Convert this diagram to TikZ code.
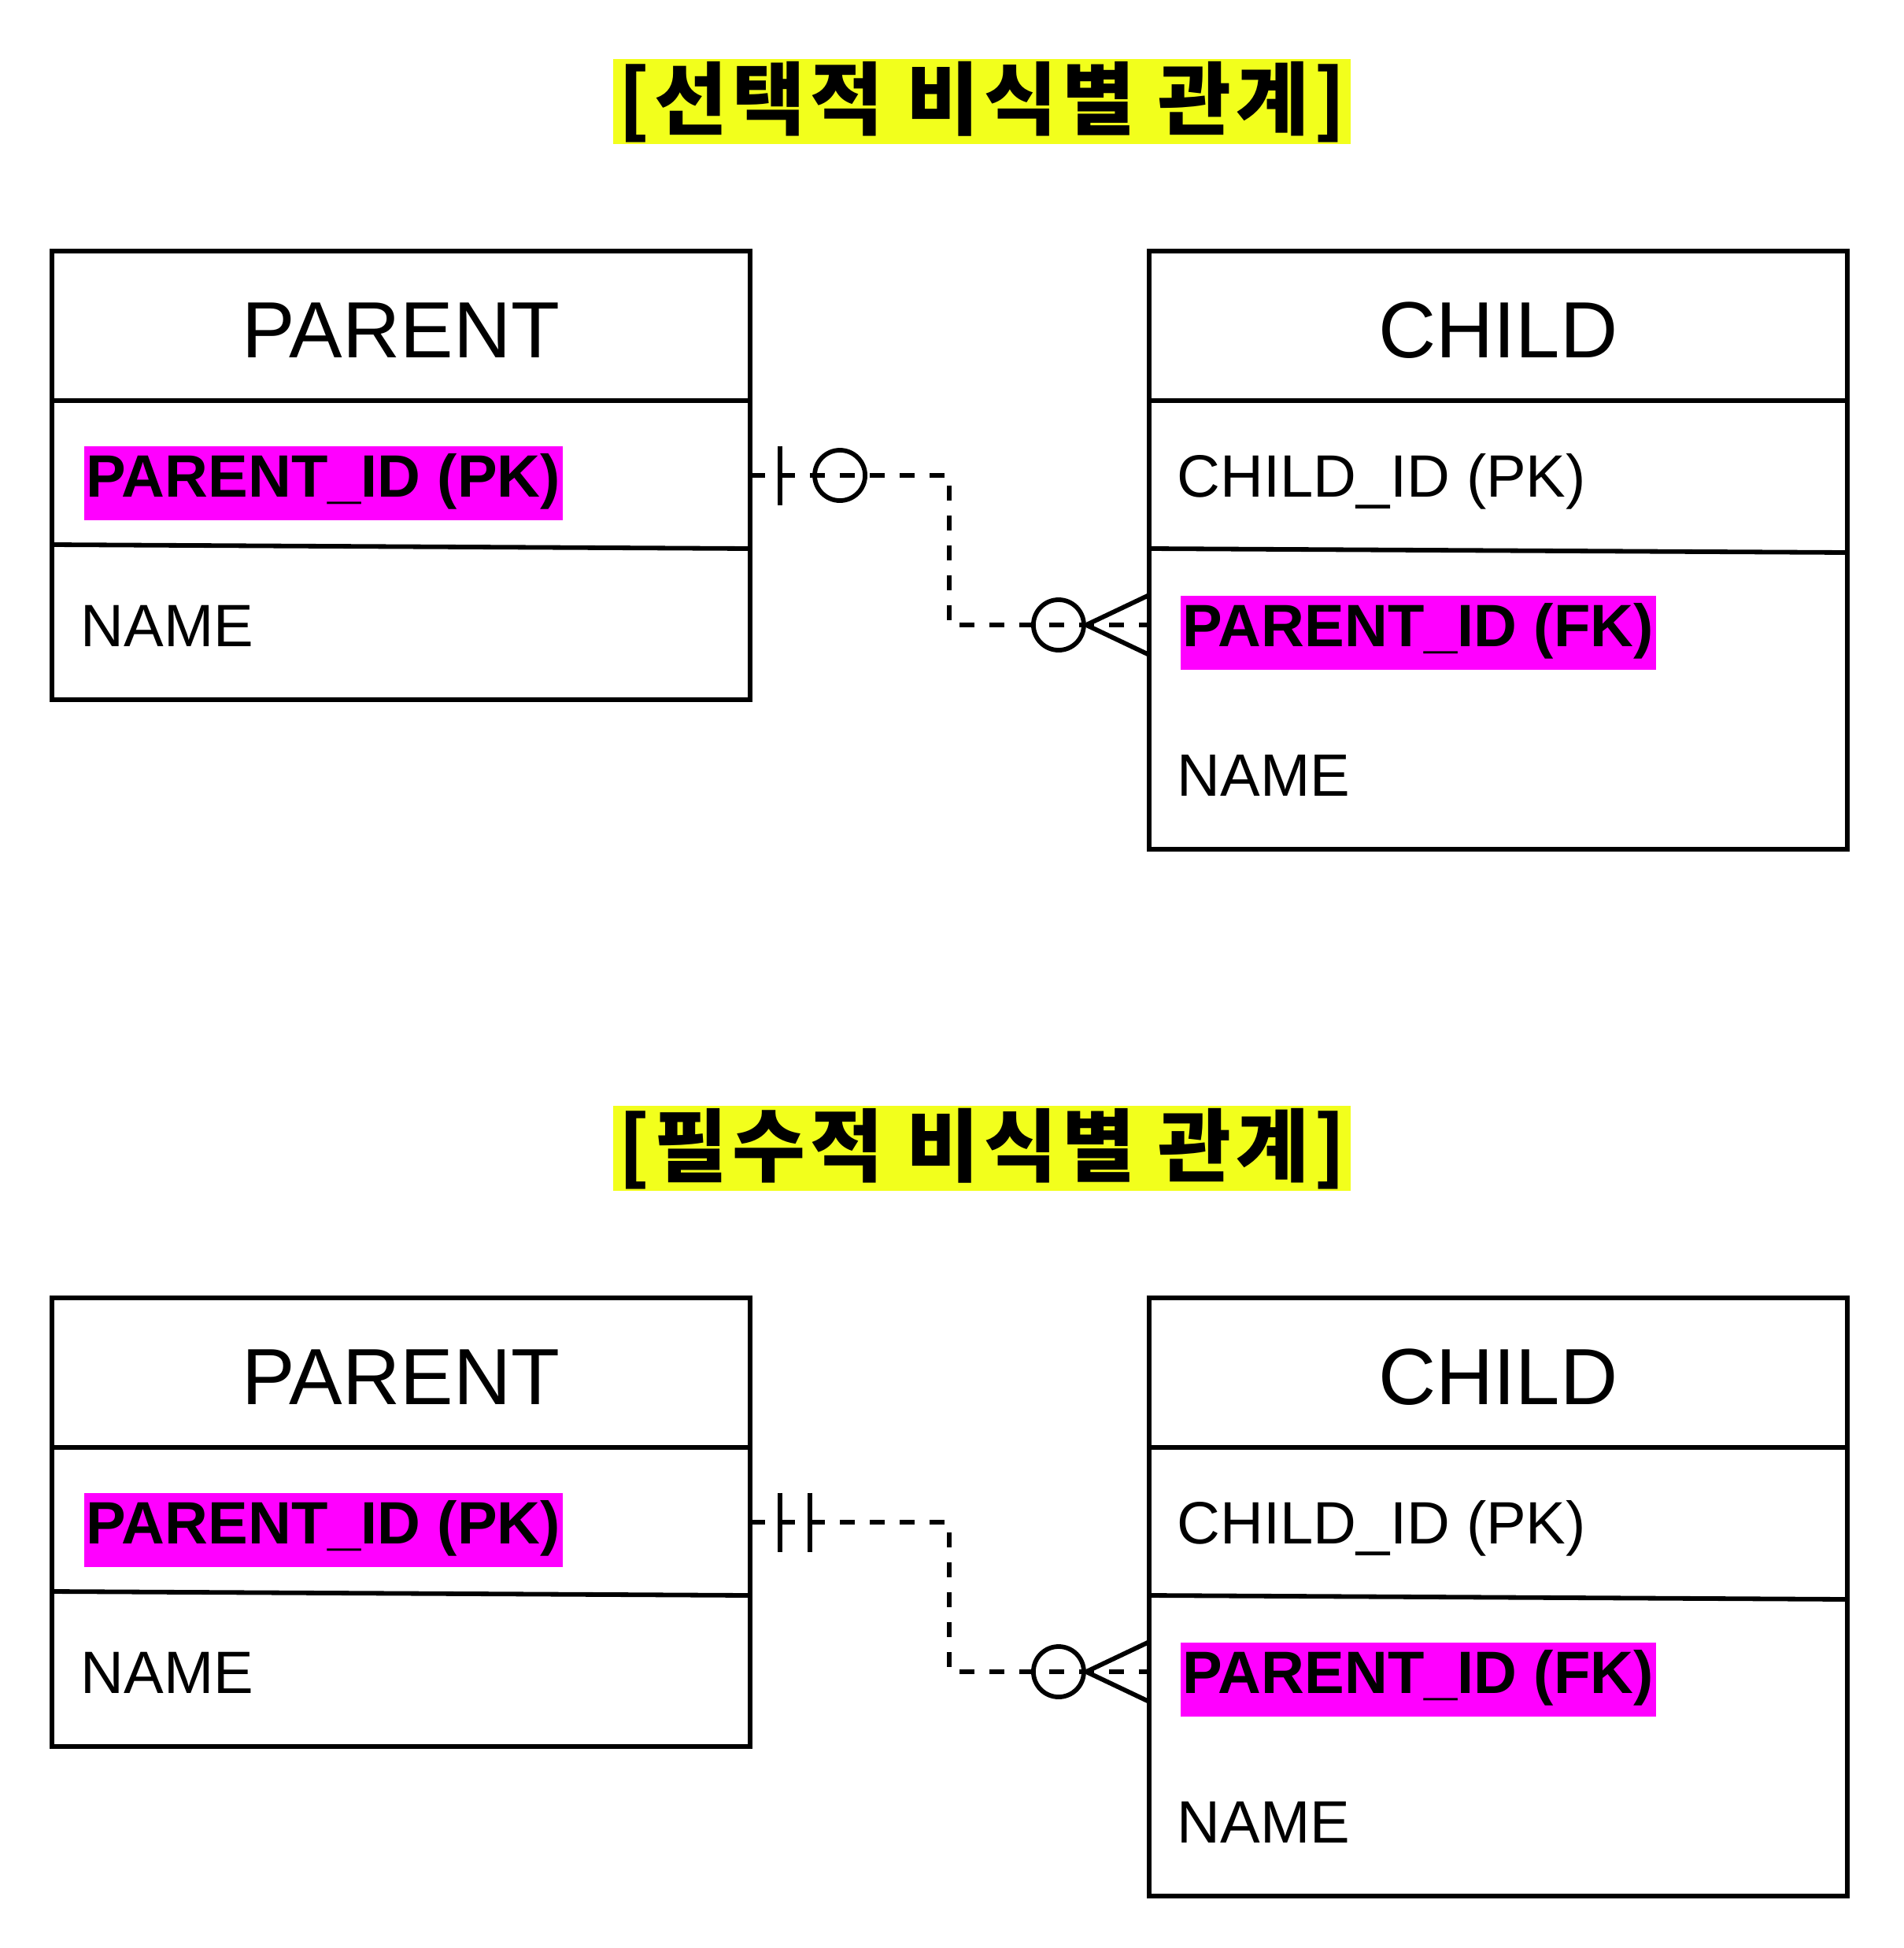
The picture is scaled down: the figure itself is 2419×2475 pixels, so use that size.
\documentclass[tikz,border=0pt]{standalone}
\usepackage{fontspec}
\setmainfont{Liberation Sans}
\newfontfamily\krfont{Noto Sans CJK KR}[LetterSpace=6]
\usepackage{xcolor}
\definecolor{ink}{HTML}{000000}
\definecolor{hlyel}{HTML}{F2FF1C}
\definecolor{hlmag}{HTML}{FF00FF}

\begin{document}
\begin{tikzpicture}[
  x=0.01cm, y=-0.01cm,
  line width=0.058cm,
  tbl/.style={draw=ink, minimum width=8.87cm, inner sep=0pt},
  hdr/.style={anchor=base, inner sep=0pt, font=\fontsize{28.8}{34}\selectfont},
  attr/.style={anchor=base west, inner sep=0pt, font=\fontsize{21.6}{26}\selectfont},
  key/.style={attr, fill=hlmag, inner xsep=0.03cm, text height=0.645cm, text depth=0.29cm,
    font=\fontsize{21.6}{26}\selectfont\bfseries},
  ttl/.style={anchor=base, fill=hlyel, inner sep=0pt, minimum width=9.37cm,
    text height=0.88cm, text depth=0.20cm, font=\krfont\bfseries\fontsize{28.7}{34}\selectfont},
  rel/.style={draw=ink, dash pattern=on 0.19cm off 0.19cm},
  sym/.style={draw=ink},
]
\useasboundingbox (0,0) rectangle (2419,2475);

% =========================================================== TOP: optional
\def\ty{0}
\node[ttl] (T1) at (1247.5,\ty+163) {[선택적 비식별 관계]};

% ---------- parent ----------
\node[tbl, minimum height=5.7cm] (P1) at (509.5,\ty+604) {};
\node[hdr] (P1h) at (509.5,\ty+454) {PARENT};
\draw (66,\ty+509) -- (953,\ty+509);
\draw (66,\ty+692) -- (953,\ty+697);
\node[key] (P1id) at (104,\ty+631.5) {PARENT\_ID (PK)};
\node[attr] (P1nm) at (100,\ty+821.5) {NAME};

% ---------- child ----------
\node[tbl, minimum height=7.6cm] (C1) at (1903.5,\ty+699) {};
\node[hdr] (C1h) at (1903.5,\ty+454) {CHILD};
\draw (1460,\ty+509) -- (2347,\ty+509);
\draw (1460,\ty+697) -- (2347,\ty+702);
\node[attr] (C1id) at (1493,\ty+631.5) {CHILD\_ID (PK)};
\node[key] (C1fk) at (1497,\ty+821.5) {PARENT\_ID (FK)};
\node[attr] (C1nm) at (1493,\ty+1011.5) {NAME};

% ---------- relation: one or zero -- zero or many ----------
\coordinate (P1k) at (953,\ty+604);
\coordinate (C1k) at (1460,\ty+794);
\draw[rel] (P1k) -- ++(253,0) |- (C1k);
\draw[sym] ([xshift=0.38cm]P1k) ++(0,-37.5) -- ++(0,75);
\draw[sym] ([xshift=1.14cm]P1k) circle[radius=0.32cm];
\draw[sym] ([xshift=-1.15cm]C1k) circle[radius=0.32cm];
\draw[sym] (C1k) ++(0,-38) -- ++(-80,38) -- ++(80,38);

% =========================================================== BOTTOM: mandatory
\def\by{1330}
\node[ttl] (T2) at (1247.5,\by+163) {[필수적 비식별 관계]};

% ---------- parent ----------
\node[tbl, minimum height=5.7cm] (P2) at (509.5,\by+604) {};
\node[hdr] (P2h) at (509.5,\by+454) {PARENT};
\draw (66,\by+509) -- (953,\by+509);
\draw (66,\by+692) -- (953,\by+697);
\node[key] (P2id) at (104,\by+631.5) {PARENT\_ID (PK)};
\node[attr] (P2nm) at (100,\by+821.5) {NAME};

% ---------- child ----------
\node[tbl, minimum height=7.6cm] (C2) at (1903.5,\by+699) {};
\node[hdr] (C2h) at (1903.5,\by+454) {CHILD};
\draw (1460,\by+509) -- (2347,\by+509);
\draw (1460,\by+697) -- (2347,\by+702);
\node[attr] (C2id) at (1493,\by+631.5) {CHILD\_ID (PK)};
\node[key] (C2fk) at (1497,\by+821.5) {PARENT\_ID (FK)};
\node[attr] (C2nm) at (1493,\by+1011.5) {NAME};

% ---------- relation: exactly one -- zero or many ----------
\coordinate (P2k) at (953,\by+604);
\coordinate (C2k) at (1460,\by+794);
\draw[rel] (P2k) -- ++(253,0) |- (C2k);
\draw[sym] ([xshift=0.38cm]P2k) ++(0,-37.5) -- ++(0,75);
\draw[sym] ([xshift=0.76cm]P2k) ++(0,-37.5) -- ++(0,75);
\draw[sym] ([xshift=-1.15cm]C2k) circle[radius=0.32cm];
\draw[sym] (C2k) ++(0,-38) -- ++(-80,38) -- ++(80,38);

\end{tikzpicture}
\end{document}
